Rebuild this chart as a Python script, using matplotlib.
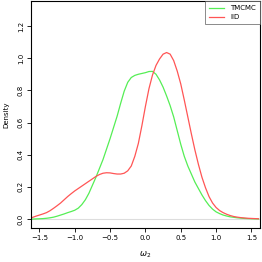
import numpy as np
import matplotlib
matplotlib.use("Agg")
import matplotlib.pyplot as plt

# density estimates, every 0.05 from -1.6 to 1.6
x_grid = np.round(np.linspace(-1.6, 1.6, 65), 2)
tmcmc = [0.0, 0.001, 0.002, 0.003, 0.005, 0.008, 0.012, 0.018, 0.025, 0.032,
         0.04, 0.047, 0.055, 0.068, 0.09, 0.12, 0.16, 0.21, 0.26, 0.315,
         0.37, 0.435, 0.50, 0.57, 0.64, 0.72, 0.795, 0.85, 0.88, 0.893,
         0.90, 0.905, 0.91, 0.917, 0.918, 0.90, 0.865, 0.82, 0.765, 0.705,
         0.635, 0.55, 0.465, 0.39, 0.33, 0.28, 0.23, 0.19, 0.15, 0.115,
         0.085, 0.062, 0.045, 0.034, 0.025, 0.019, 0.014, 0.011, 0.008, 0.006,
         0.004, 0.003, 0.002, 0.0015, 0.001]
iid = [0.01, 0.018, 0.025, 0.032, 0.04, 0.052, 0.067, 0.083, 0.10, 0.12,
       0.14, 0.158, 0.175, 0.19, 0.205, 0.22, 0.235, 0.25, 0.265, 0.277,
       0.285, 0.288, 0.287, 0.283, 0.28, 0.28, 0.285, 0.30, 0.33, 0.39,
       0.47, 0.58, 0.70, 0.81, 0.895, 0.955, 0.995, 1.025, 1.035, 1.025,
       0.985, 0.92, 0.84, 0.74, 0.635, 0.53, 0.43, 0.34, 0.26, 0.195,
       0.14, 0.10, 0.072, 0.053, 0.04, 0.03, 0.022, 0.016, 0.012, 0.009,
       0.007, 0.005, 0.004, 0.003, 0.002]
x_ticks = [-1.5, -1.0, -0.5, 0.0, 0.5, 1.0, 1.5]
y_ticks = [0.0, 0.2, 0.4, 0.6, 0.8, 1.0, 1.2]

fig = plt.figure(figsize=(2.62, 2.62), dpi=100)
ax = fig.add_axes([0.118, 0.130, 0.874, 0.866])

ax.axhline(0, color='#dddddd', lw=0.8, zorder=1)
ax.plot(x_grid, tmcmc, color='#55ee55', lw=0.9, label='TMCMC')
ax.plot(x_grid, iid, color='#ff5555', lw=0.9, label='IID')

ax.set_xlim(-1.62, 1.62)
ax.set_ylim(-0.055, 1.355)
ax.set_xticks(x_ticks)
ax.set_xticklabels([f"{v:.1f}".replace('-', '\u2212') for v in x_ticks])
ax.set_yticks(y_ticks)
ax.set_yticklabels([f"{v:.1f}" for v in y_ticks], rotation=90, va='center')
ax.tick_params(labelsize=5, length=3, width=0.6, pad=2)
for s in ax.spines.values():
    s.set_linewidth(0.8)

ax.set_xlabel(r'$\omega_2$', fontsize=6, labelpad=6)
ax.set_ylabel('Density', fontsize=5, labelpad=6)

leg = ax.legend(loc='upper right', fontsize=5, frameon=True, fancybox=False,
                edgecolor='#555555', borderaxespad=0, handlelength=2.2,
                handletextpad=0.8, borderpad=0.6, labelspacing=0.4)
leg.get_frame().set_linewidth(0.6)

fig.savefig("out.png", dpi=100)
